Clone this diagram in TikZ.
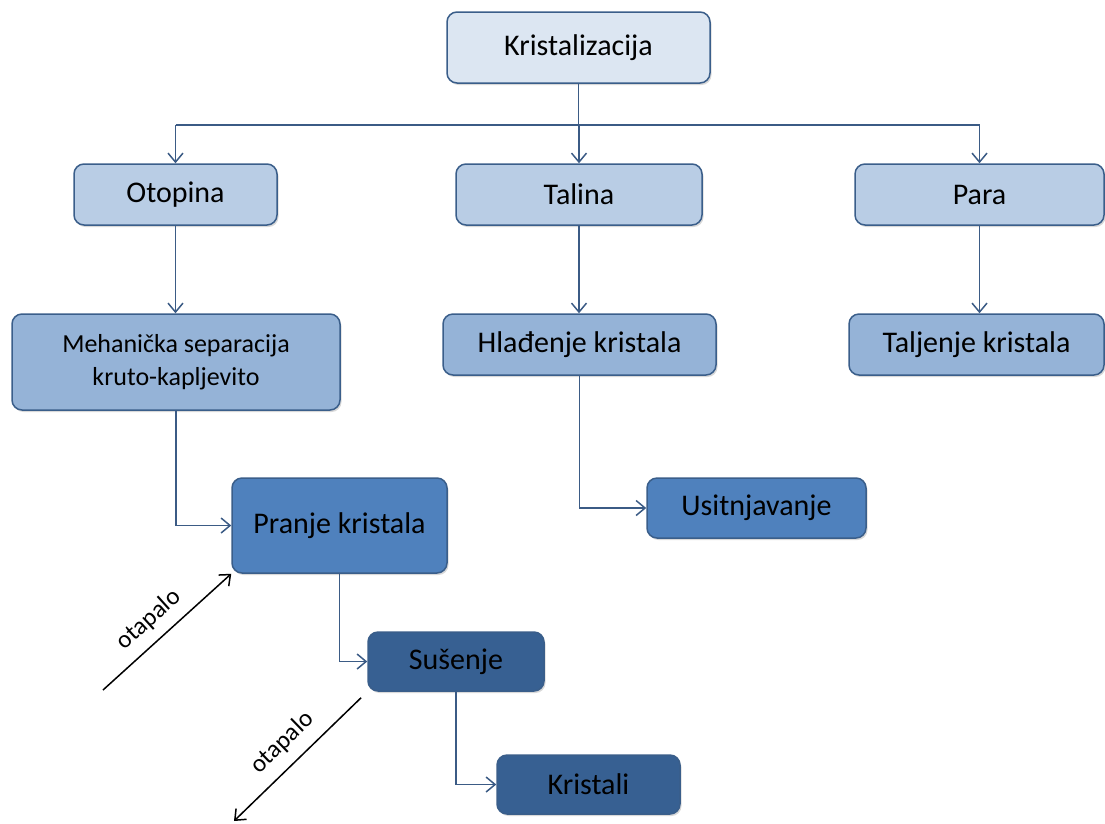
\documentclass[tikz,border=0pt]{standalone}
\usepackage{fontspec}
\setmainfont{Carlito}
\usetikzlibrary{arrows.meta,shadows,calc}
\definecolor{bordc}{HTML}{3A5E8A}
\definecolor{connc}{HTML}{3B5B85}
\definecolor{cA}{HTML}{DCE6F2}
\definecolor{cB}{HTML}{B9CDE5}
\definecolor{cC}{HTML}{95B3D7}
\definecolor{cD}{HTML}{4F81BD}
\definecolor{cE}{HTML}{376092}
\begin{document}
\begin{tikzpicture}[x=1pt,y=-1pt,
  box/.style={draw=bordc, line width=1.5pt, rounded corners=10pt, inner sep=0pt,
    font=\fontsize{30}{35}\selectfont, text=black, align=center,
    drop shadow={shadow xshift=1.5pt, shadow yshift=-2pt, opacity=0.25, fill=black!60}},
  conn/.style={draw=connc, line width=1.5pt},
  arr/.style={conn, -{Straight Barb[length=9pt,width=15pt]}},
  blk/.style={draw=black, line width=1.5pt, -{Straight Barb[length=9pt,width=15pt]}},
  blkrev/.style={draw=black, line width=1.5pt, {Straight Barb[length=9pt,width=15pt]}-},
  lab/.style={inner sep=0pt, font=\fontsize{25}{29}\selectfont, text=black}
]
\useasboundingbox (0,0) rectangle (1105,823);

\node[box, fill=cA, minimum width=263pt, minimum height=71pt] (kri) at (578.5,47.5) {Kristalizacija};
\node[box, fill=cB, minimum width=203pt, minimum height=61pt] (oto) at (175.5,194.5) {Otopina};
\node[box, fill=cB, minimum width=246pt, minimum height=61pt] (tal) at (579,194.5) {Talina};
\node[box, fill=cB, minimum width=249pt, minimum height=61pt] (par) at (979.5,194.5) {Para};
\node[box, fill=cC, minimum width=328pt, minimum height=96pt, font=\fontsize{26}{33}\selectfont] (meh) at (176,362) {Mehanička separacija\\kruto-kapljevito};
\node[box, fill=cC, minimum width=273pt, minimum height=61pt] (hla) at (579.5,344.5) {Hlađenje kristala};
\node[box, fill=cC, minimum width=255pt, minimum height=61pt] (talj) at (976.5,344.5) {Taljenje kristala};
\node[box, fill=cD, minimum width=215pt, minimum height=95pt] (pra) at (339.5,525.5) {Pranje kristala};
\node[box, fill=cD, minimum width=219pt, minimum height=60pt] (usi) at (756.5,508) {Usitnjavanje};
\node[box, fill=cE, minimum width=176pt, minimum height=59pt] (sus) at (456,661.5) {Sušenje};
\node[box, fill=cE, minimum width=183pt, minimum height=59pt] (kris) at (588.5,784.5) {Kristali};

\coordinate (bus) at (578.5,125);
\draw[conn] (kri.south) -- (bus);
\draw[conn] (oto.north |- bus) -- (par.north |- bus);
\draw[arr] (oto.north |- bus) -- (oto.north);
\draw[arr] (tal.north |- bus) -- (tal.north);
\draw[arr] (par.north |- bus) -- (par.north);

\draw[arr] (oto.south) -- (oto.south |- meh.north);
\draw[arr] (tal.south) -- (tal.south |- hla.north);
\draw[arr] (par.south) -- (par.south |- talj.north);

\draw[arr] (meh.south) |- (pra.west);
\draw[arr] (hla.south) |- (usi.west);
\draw[arr] (pra.south) |- (sus.west);
\draw[arr] (sus.south) |- (kris.west);

\coordinate (in1) at (103,690);
\draw[blk] (in1) -- (pra.south west)
  node[lab, pos=0.47, sloped, above=10pt] {otapalo};
\coordinate (out2) at (234,821);
\draw[blkrev, shorten >=8.5pt] (out2) -- (sus.south west)
  node[lab, pos=0.48, sloped, above=11pt] {otapalo};
\end{tikzpicture}
\end{document}
